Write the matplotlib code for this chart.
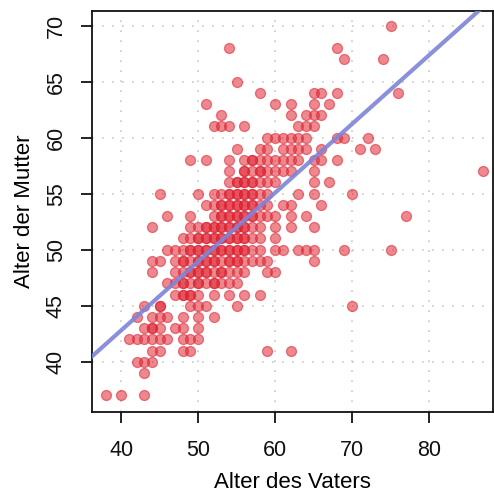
import matplotlib
matplotlib.use("Agg")
import matplotlib.pyplot as plt

plt.rcParams['font.family'] = ['Liberation Sans', 'DejaVu Sans']

# Ages (father, mother), row by row of mother's age
father_age = [
    38, 40, 43,                                   # 37
    43,                                           # 39
    42, 43, 44,                                   # 40
    44, 45, 48, 49, 59, 62,                       # 41
    41, 42, 43, 44, 45, 46, 48, 49, 50,           # 42
    43, 44, 45, 47, 48, 50, 44,                   # 43
    42, 44, 45, 46, 48, 50, 52,                   # 44
    43, 45, 49, 50, 51, 55, 70, 45,               # 45
    47, 48, 49, 50, 52, 54, 56, 58, 48, 49,       # 46
    46, 47, 48, 49, 50, 51, 52, 53, 54, 55, 48, 50, 52,   # 47
    44, 47, 48, 49, 50, 51, 52, 53, 54, 55, 56, 59, 60, 49, 50, 51, 53,   # 48
    44, 45, 47, 48, 49, 50, 51, 52, 53, 54, 55, 56, 57, 58, 59, 65,
    48, 50, 51, 52, 54, 55,                       # 49
    46, 47, 48, 49, 50, 51, 52, 53, 54, 55, 56, 57, 58, 60, 61, 63, 64, 65, 69, 75,
    49, 50, 51, 52, 53, 54, 55, 56,               # 50
    48, 49, 50, 51, 52, 53, 54, 55, 56, 57, 58, 60, 50, 51, 52, 53, 54, 55, 56,   # 51
    44, 49, 50, 51, 52, 53, 54, 55, 56, 57, 58, 60, 62, 65, 51, 52, 53, 54, 55, 56,  # 52
    46, 49, 52, 53, 54, 55, 56, 57, 58, 59, 60, 62, 64, 77, 53, 54, 55, 56, 57,  # 53
    51, 52, 53, 54, 55, 56, 57, 58, 59, 61, 62, 66, 53, 54, 55, 56, 57,  # 54
    45, 50, 52, 53, 54, 55, 56, 57, 58, 59, 63, 65, 70, 54, 55, 56, 57,  # 55
    54, 55, 56, 57, 58, 59, 60, 65, 67, 55, 56, 57,   # 56
    54, 56, 57, 58, 59, 60, 61, 62, 65, 87, 56, 58,   # 57
    49, 51, 54, 56, 57, 58, 59, 60, 61, 62, 63, 65, 66, 68, 57,  # 58
    55, 58, 59, 61, 62, 63, 64, 66, 71, 73,       # 59
    59, 60, 61, 62, 63, 64, 68, 69, 72,           # 60
    52, 53, 54, 56, 63, 64, 65,                   # 61
    53, 62, 64, 65, 66,                           # 62
    51, 60, 62, 65, 67,                           # 63
    58, 65, 66, 68, 76,                           # 64
    55,                                           # 65
    69, 74,                                       # 67
    54, 68,                                       # 68
    75,                                           # 70
]
mother_age = [
    37, 37, 37,
    39,
    40, 40, 40,
    41, 41, 41, 41, 41, 41,
    42, 42, 42, 42, 42, 42, 42, 42, 42,
    43, 43, 43, 43, 43, 43, 43,
    44, 44, 44, 44, 44, 44, 44,
    45, 45, 45, 45, 45, 45, 45, 45,
    46, 46, 46, 46, 46, 46, 46, 46, 46, 46,
    47, 47, 47, 47, 47, 47, 47, 47, 47, 47, 47, 47, 47,
    48, 48, 48, 48, 48, 48, 48, 48, 48, 48, 48, 48, 48, 48, 48, 48, 48,
    49, 49, 49, 49, 49, 49, 49, 49, 49, 49, 49, 49, 49, 49, 49, 49,
    49, 49, 49, 49, 49, 49,
    50, 50, 50, 50, 50, 50, 50, 50, 50, 50, 50, 50, 50, 50, 50, 50, 50, 50, 50, 50,
    50, 50, 50, 50, 50, 50, 50, 50,
    51, 51, 51, 51, 51, 51, 51, 51, 51, 51, 51, 51, 51, 51, 51, 51, 51, 51, 51,
    52, 52, 52, 52, 52, 52, 52, 52, 52, 52, 52, 52, 52, 52, 52, 52, 52, 52, 52, 52,
    53, 53, 53, 53, 53, 53, 53, 53, 53, 53, 53, 53, 53, 53, 53, 53, 53, 53, 53,
    54, 54, 54, 54, 54, 54, 54, 54, 54, 54, 54, 54, 54, 54, 54, 54, 54,
    55, 55, 55, 55, 55, 55, 55, 55, 55, 55, 55, 55, 55, 55, 55, 55, 55,
    56, 56, 56, 56, 56, 56, 56, 56, 56, 56, 56, 56,
    57, 57, 57, 57, 57, 57, 57, 57, 57, 57, 57, 57,
    58, 58, 58, 58, 58, 58, 58, 58, 58, 58, 58, 58, 58, 58, 58,
    59, 59, 59, 59, 59, 59, 59, 59, 59, 59,
    60, 60, 60, 60, 60, 60, 60, 60, 60,
    61, 61, 61, 61, 61, 61, 61,
    62, 62, 62, 62, 62,
    63, 63, 63, 63, 63,
    64, 64, 64, 64, 64,
    65,
    67, 67,
    68, 68,
    70,
]

# Regression line
line_intercept = 18.24
line_slope = 0.614

x_ticks = [40, 50, 60, 70, 80]
y_ticks = [40, 45, 50, 55, 60, 65, 70]

fig = plt.figure(figsize=(4.94, 4.99), dpi=100)
ax = fig.add_axes([0.186, 0.174, 0.812, 0.804])

ax.set_xlim(36.2, 88.3)
ax.set_ylim(35.5, 71.3)
ax.set_xticks(x_ticks)
ax.set_yticks(y_ticks)

ax.grid(True, color='#c8c8c8', linestyle=(0, (1, 5)), linewidth=1.2)
ax.set_axisbelow(True)

ax.scatter(father_age, mother_age, s=52, color='#e02634', alpha=0.55,
           edgecolors='#d81f2e', linewidths=0.9, zorder=2)
ax.axline((0, line_intercept), slope=line_slope, color='#7f84d8',
          linewidth=3, alpha=0.9, zorder=3)

for s in ax.spines.values():
    s.set_linewidth(1.3)
    s.set_color('#111111')

ax.tick_params(axis='both', direction='out', length=8, width=1.3,
               labelsize=15.5, colors='#111111')
ax.tick_params(axis='x', pad=12)
ax.tick_params(axis='y', pad=10)
for lbl in ax.get_yticklabels():
    lbl.set_rotation(90)
    lbl.set_va('center')

ax.set_xlabel('Alter des Vaters', fontsize=16, labelpad=8)
ax.set_ylabel('Alter der Mutter', fontsize=16, labelpad=8)

fig.savefig('out.png', dpi=100)
